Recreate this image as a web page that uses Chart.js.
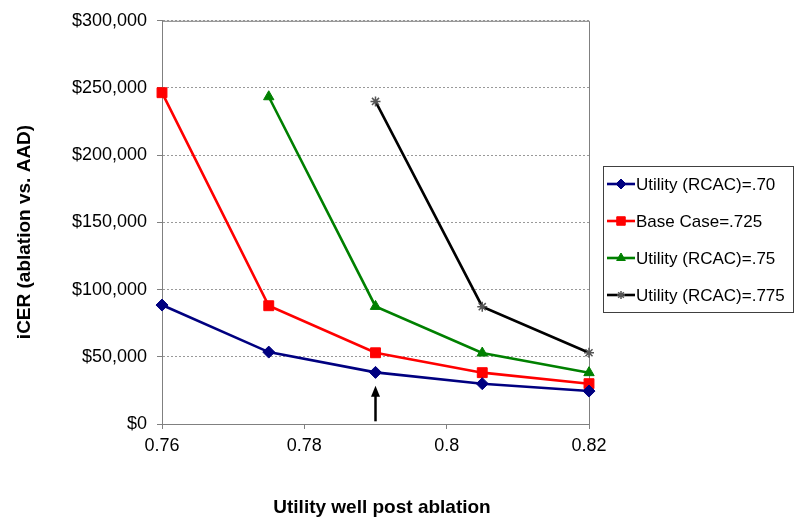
<!DOCTYPE html>
<html>
<head>
<meta charset="utf-8">
<script src="https://cdn.jsdelivr.net/npm/chart.js@4/dist/chart.umd.min.js"></script>
<style>
  body { margin: 0; background: #fff; }
</style>
</head>
<body>
<canvas id="chart" width="800" height="525"></canvas>
<script>
// values
const xValues = [0.76, 0.775, 0.79, 0.805, 0.82]
const util70 = [88500, 53500, 38400, 30000, 24500]
const baseCase725 = [246500, 88000, 53000, 38200, 30000]
const util75 = [null, 243500, 87500, 52800, 38200]
const util775 = [null, null, 240000, 87300, 53000]
const seriesLabels = ['Utility (RCAC)=.70', 'Base Case=.725', 'Utility (RCAC)=.75', 'Utility (RCAC)=.775']
const xTicks = [0.76, 0.78, 0.8, 0.82]
const yTitle = 'iCER (ablation vs. AAD)'
const xTitle = 'Utility well post ablation'
// arrow marking the base case at 0.79
const arrowX = 0.79
const arrowFrom = 2000
const arrowTo = 28500

const FONT = 'Arial, "Liberation Sans", sans-serif'

function toPoints(values) {
  return values.map((v, i) => ({ x: xValues[i], y: v }))
}

function makeSet(label, values, color, style, radius, pointColor) {
  return {
    label: label,
    data: toPoints(values),
    borderColor: color,
    backgroundColor: pointColor || color,
    pointBackgroundColor: pointColor || color,
    pointBorderColor: pointColor || color,
    pointStyle: style,
    pointRadius: radius,
    pointBorderWidth: style === 'star' ? 1.5 : 1,
    borderWidth: 2.6,
    fill: false,
    tension: 0,
    clip: false,
  }
}

// draws frame, arrow, axis titles and the boxed legend
const extras = {
  id: 'extras',
  beforeDatasetsDraw(chart) {
    const { ctx, chartArea } = chart
    ctx.save()
    // plot frame top and right
    ctx.strokeStyle = '#808080'
    ctx.lineWidth = 1
    ctx.beginPath()
    ctx.moveTo(chartArea.left, chartArea.top + 0.5)
    ctx.lineTo(chartArea.right + 0.5, chartArea.top + 0.5)
    ctx.lineTo(chartArea.right + 0.5, chartArea.bottom)
    ctx.stroke()
    ctx.restore()
  },
  afterDatasetsDraw(chart) {
    const { ctx, scales } = chart
    ctx.save()
    const ax = scales.x.getPixelForValue(arrowX)
    const y0 = scales.y.getPixelForValue(arrowFrom)
    const y1 = scales.y.getPixelForValue(arrowTo)
    ctx.strokeStyle = '#000'
    ctx.fillStyle = '#000'
    ctx.lineWidth = 2.5
    ctx.beginPath()
    ctx.moveTo(ax, y0)
    ctx.lineTo(ax, y1 + 8)
    ctx.stroke()
    ctx.beginPath()
    ctx.moveTo(ax, y1)
    ctx.lineTo(ax - 4.5, y1 + 11)
    ctx.lineTo(ax + 4.5, y1 + 11)
    ctx.closePath()
    ctx.fill()
    ctx.restore()
  },
  afterDraw(chart) {
    const { ctx } = chart
    ctx.save()
    ctx.fillStyle = '#000'
    ctx.font = 'bold 19px ' + FONT
    ctx.textAlign = 'center'
    ctx.textBaseline = 'middle'
    ctx.fillText(xTitle, 382, 508)
    ctx.translate(25, 232)
    ctx.rotate(-Math.PI / 2)
    ctx.fillText(yTitle, 0, 0)
    ctx.restore()

    // legend box
    const lx = 603, ly = 166, lw = 190, lh = 146
    ctx.save()
    ctx.fillStyle = '#fff'
    ctx.fillRect(lx, ly, lw, lh)
    ctx.strokeStyle = '#404040'
    ctx.lineWidth = 1
    ctx.strokeRect(lx + 0.5, ly + 0.5, lw, lh)
    ctx.font = '17px ' + FONT
    ctx.textBaseline = 'middle'
    ctx.textAlign = 'left'
    chart.data.datasets.forEach((ds, i) => {
      const cy = ly + 18 + i * 37
      ctx.strokeStyle = ds.borderColor
      ctx.lineWidth = 2.6
      ctx.beginPath()
      ctx.moveTo(lx + 4, cy)
      ctx.lineTo(lx + 32, cy)
      ctx.stroke()
      ctx.fillStyle = ds.pointBackgroundColor
      ctx.strokeStyle = ds.pointBorderColor
      ctx.lineWidth = ds.pointBorderWidth
      Chart.helpers.drawPoint(ctx, {
        pointStyle: ds.pointStyle,
        radius: ds.pointRadius - 1,
        rotation: 0,
        borderWidth: ds.pointBorderWidth,
      }, lx + 18, cy)
      ctx.fillStyle = '#000'
      ctx.fillText(ds.label, lx + 33, cy + 1)
    })
    ctx.restore()
  },
}

const ctx = document.getElementById('chart').getContext('2d')
const chart = new Chart(ctx, {
  type: 'line',
  data: {
    datasets: [
      makeSet(seriesLabels[0], util70, '#000080', 'rectRot', 6),
      makeSet(seriesLabels[1], baseCase725, '#ff0000', 'rect', 7),
      makeSet(seriesLabels[2], util75, '#008000', 'triangle', 6),
      makeSet(seriesLabels[3], util775, '#000000', 'star', 5, '#555555'),
    ],
  },
  options: {
    responsive: false,
    animation: false,
    layout: { padding: { left: 0, top: 15, right: 211, bottom: 0 } },
    plugins: {
      legend: { display: false },
      tooltip: { enabled: false },
    },
    scales: {
      x: {
        type: 'linear',
        min: 0.76,
        max: 0.82,
        afterBuildTicks(scale) {
          scale.ticks = xTicks.map((v) => ({ value: v }))
        },
        afterFit(scale) {
          scale.height = 101
        },
        ticks: {
          color: '#000',
          font: { family: FONT, size: 18 },
          padding: 6,
          maxRotation: 0,
          callback: (v) => String(Number(v.toFixed(3))),
        },
        grid: {
          drawOnChartArea: false,
          tickLength: 5,
          color: '#808080',
          tickColor: '#808080',
        },
        border: { color: '#808080', width: 1 },
      },
      y: {
        min: 0,
        max: 300000,
        afterFit(scale) {
          scale.width = 162
        },
        ticks: {
          stepSize: 50000,
          color: '#000',
          font: { family: FONT, size: 18 },
          padding: 10,
          callback: (v) => '$' + v.toLocaleString('en-US'),
        },
        grid: {
          tickLength: 5,
          color: '#999999',
          tickColor: '#808080',
        },
        border: { color: '#808080', width: 1, dash: [2, 2] },
      },
    },
  },
  plugins: [extras],
})
</script>
</body>
</html>
